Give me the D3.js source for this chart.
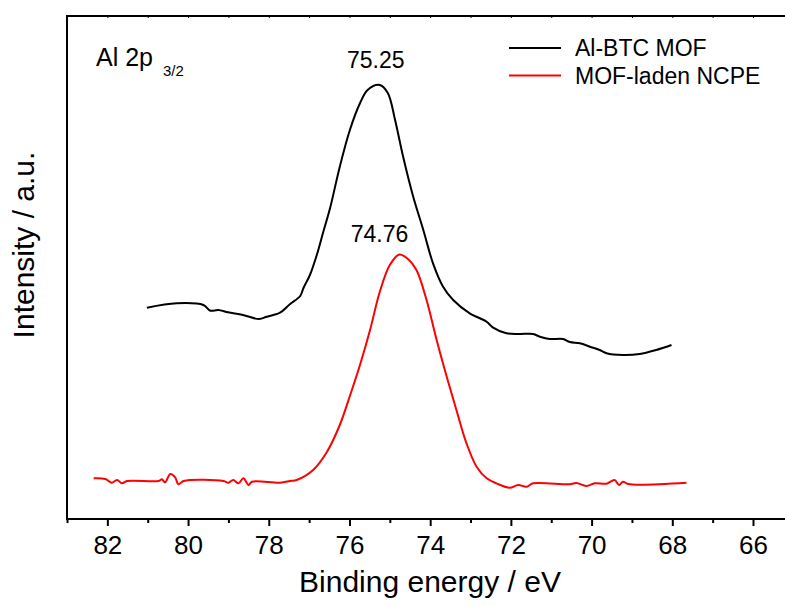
<!DOCTYPE html>
<html>
<head>
<meta charset="utf-8">
<script src="https://cdn.jsdelivr.net/npm/d3@7"></script>
<style>
  html, body { margin: 0; padding: 0; background: #fff; }
  svg { display: block; font-family: "Liberation Sans", Arial, sans-serif; }
</style>
</head>
<body>
<svg id="chart" width="785" height="606"></svg>
<script>
// Al 2p 3/2 XPS spectra: binding energy (eV) vs intensity (a.u.)
const mofEnergy = [81.02, 80.28, 79.62, 79.45, 79.25, 79.01, 78.64, 78.24, 78.05, 77.89, 77.72, 77.47,
  77.22, 77.14, 76.98, 76.81, 76.65, 76.48, 76.24, 75.99, 75.74, 75.55, 75.25, 75.05, 74.87, 74.67,
  74.42, 74.17, 73.93, 73.68, 73.43, 73.02, 72.60, 72.44, 72.11, 71.78, 71.45, 71.28, 71.04, 70.71,
  70.54, 70.29, 70.04, 69.80, 69.63, 69.22, 68.81, 68.40, 68.02];
const mofIntensity = [2113, 2157, 2140, 2083, 2090, 2067, 2040, 2000, 2023, 2040, 2063, 2150,
  2230, 2310, 2440, 2640, 2870, 3110, 3523, 3890, 4157, 4290, 4340, 4260, 3990, 3623,
  3223, 2890, 2557, 2323, 2190, 2057, 1973, 1913, 1857, 1850, 1850, 1823, 1800, 1800,
  1770, 1757, 1723, 1690, 1657, 1640, 1650, 1690, 1740];

const ncpeEnergy = [82.34, 82.05, 81.89, 81.76, 81.64, 81.51, 80.73, 80.65, 80.57, 80.44, 80.32, 80.24,
  80.11, 79.12, 79.00, 78.88, 78.75, 78.63, 78.50, 78.42, 77.72, 77.47, 77.31, 76.90, 76.56, 76.24,
  75.99, 75.74, 75.49, 75.25, 75.00, 74.76, 74.55, 74.34, 74.09, 73.84, 73.59, 73.35, 73.10, 72.85,
  72.60, 72.36, 72.03, 71.82, 71.61, 71.45, 70.54, 70.38, 70.13, 69.92, 69.63, 69.43, 69.32, 69.22,
  69.10, 67.65];
const ncpeIntensity = [407, 400, 363, 390, 357, 380, 380, 397, 367, 450, 417, 347,
  380, 380, 363, 390, 357, 407, 340, 373, 363, 380, 390, 490, 670, 940,
  1230, 1540, 1890, 2270, 2540, 2645, 2600, 2490, 2190, 1790, 1423, 1090, 757, 523,
  407, 357, 313, 340, 323, 357, 347, 360, 330, 357, 353, 390, 340, 373,
  350, 363];

const seriesNames = ["Al-BTC MOF", "MOF-laden NCPE"];
const seriesColors = ["#000000", "#ff0000"];
const peakLabels = [75.25, 74.76];
const xMajorTicks = [82, 80, 78, 76, 74, 72, 70, 68, 66];
const xMinorTicks = [83, 81, 79, 77, 75, 73, 71, 69, 67];

const svg = d3.select("#chart");
const plotLeft = 67, plotRight = 785, plotTop = 16, plotBottom = 519;

const x = d3.scaleLinear().domain([83, 66]).range([plotLeft, 753]);
const y = d3.scaleLinear().domain([0, 5030]).range([plotBottom, plotTop]);

// frame: left and top edges
const frame = svg.append("g").attr("stroke", "#000").attr("stroke-width", 2).attr("fill", "none");
frame.append("line").attr("x1", plotLeft).attr("x2", plotLeft).attr("y1", plotTop - 1).attr("y2", plotBottom + 1);
frame.append("line").attr("x1", plotLeft).attr("x2", plotRight).attr("y1", plotTop).attr("y2", plotTop);

// bottom axis with major / minor ticks
const xAxis = d3.axisBottom(x).tickValues(xMajorTicks).tickSize(7).tickPadding(10)
  .tickFormat(d3.format("d"));
const gx = svg.append("g").attr("transform", `translate(0,${plotBottom})`).call(xAxis);
gx.select(".domain").remove();
gx.selectAll(".tick line").attr("stroke-width", 2);
gx.selectAll(".tick text").attr("font-size", 26).attr("font-family", "Liberation Sans, Arial, sans-serif")
  .attr("fill", "#000");
const xMinor = d3.axisBottom(x).tickValues(xMinorTicks).tickSize(4).tickFormat("");
const gxm = svg.append("g").attr("transform", `translate(0,${plotBottom})`).call(xMinor);
gxm.select(".domain").remove();
gxm.selectAll(".tick line").attr("stroke-width", 2);
svg.append("line").attr("x1", plotLeft).attr("x2", plotRight).attr("y1", plotBottom).attr("y2", plotBottom)
  .attr("stroke", "#000").attr("stroke-width", 2);

// small inward ticks on the top edge
const xTop = d3.axisBottom(x).tickValues(xMajorTicks.concat(xMinorTicks.filter(d => d < 83)))
  .tickSize(2).tickFormat("");
const gt = svg.append("g").attr("transform", `translate(0,${plotTop})`).call(xTop);
gt.select(".domain").remove();
gt.selectAll(".tick line").attr("stroke-width", 1);

// axis titles
svg.append("text").attr("x", 430).attr("y", 592).attr("text-anchor", "middle")
  .attr("font-size", 30).text("Binding energy / eV");
svg.append("text").attr("transform", "translate(34,245) rotate(-90)").attr("text-anchor", "middle")
  .attr("font-size", 30).text("Intensity / a.u.");

// spectra
const line = d3.line().x(d => x(d[0])).y(d => y(d[1])).curve(d3.curveCatmullRom.alpha(0.5));
const series = [
  d3.zip(mofEnergy, mofIntensity),
  d3.zip(ncpeEnergy, ncpeIntensity)
];
series.forEach((pts, i) => {
  svg.append("path").datum(pts).attr("d", line).attr("fill", "none")
    .attr("stroke", seriesColors[i]).attr("stroke-width", 2).attr("stroke-linejoin", "round");
});

// peak position labels, set just above each maximum
const peakY = [d3.max(mofIntensity), d3.max(ncpeIntensity)];
const labelDx = [-4, -20], labelDy = [-17, -13];
peakLabels.forEach((v, i) => {
  svg.append("text").attr("x", x(v) + labelDx[i]).attr("y", y(peakY[i]) + labelDy[i])
    .attr("text-anchor", "middle").attr("font-size", 23).text(d3.format(".2f")(v));
});

// spectrum annotation
const ann = svg.append("text").attr("x", 96).attr("y", 66).attr("font-size", 25);
ann.append("tspan").text("Al 2p ");
ann.append("tspan").attr("font-size", 15).attr("dx", 3).attr("dy", 10).text("3/2");

// legend
seriesNames.forEach((name, i) => {
  const ly = 48 + i * 27.5;
  svg.append("line").attr("x1", 509).attr("x2", 561).attr("y1", ly).attr("y2", ly)
    .attr("stroke", seriesColors[i]).attr("stroke-width", 2);
  svg.append("text").attr("x", 575).attr("y", ly + 8).attr("font-size", 23).text(name);
});
</script>
</body>
</html>
